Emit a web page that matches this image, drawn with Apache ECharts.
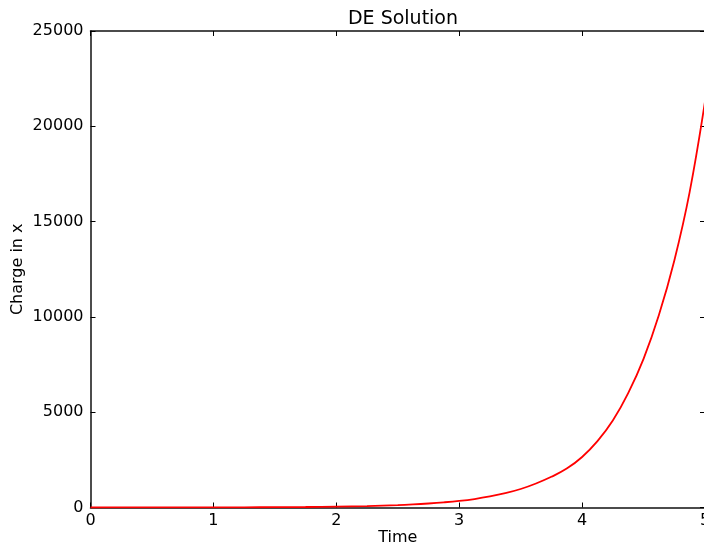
<!DOCTYPE html>
<html>
<head>
<meta charset="utf-8">
<script src="https://cdn.jsdelivr.net/npm/echarts@6/dist/echarts.min.js"></script>
<style>
html,body{margin:0;padding:0;background:#fff;}
#c{width:704px;height:546px;}
</style>
</head>
<body>
<div id="c"></div>
<script>
var titleText = "DE Solution";
var xLabel = "Time";
var yLabel = "Charge in x";
var timeValues = [0, 0.25, 0.5, 0.75, 1, 1.25, 1.5, 1.75, 2, 2.25, 2.5, 2.625, 2.75, 2.875, 3, 3.125, 3.25, 3.375, 3.5, 3.625, 3.75, 3.875, 4, 4.125, 4.25, 4.375, 4.5, 4.625, 4.75, 4.875, 5];
var chargeValues = [1, 1.6, 2.6, 4, 6.5, 10, 16, 27, 46, 75, 125, 162, 210, 270, 345, 445, 580, 750, 970, 1260, 1610, 2040, 2650, 3480, 4560, 6000, 7800, 10100, 12950, 16550, 21300];

var font = "DejaVu Sans";
var pts = timeValues.map(function (t, i) { return [t, chargeValues[i]]; });
var plain = function (v) { return String(v); };

var chart = echarts.init(document.getElementById('c'), null, {renderer: 'canvas'});
var axisLineStyle = {color: '#111', width: 1.5};
chart.setOption({
  animation: false,
  backgroundColor: '#fff',
  title: {
    text: titleText, left: 398, top: 5, textAlign: 'center',
    textStyle: {fontFamily: font, fontSize: 19, fontWeight: 'normal', color: '#000'}
  },
  grid: {left: 90.5, top: 31, width: 614.5, height: 476.5, containLabel: false, outerBoundsMode: 'none'},
  xAxis: [{
    type: 'value', min: 0, max: 5, interval: 1, position: 'bottom',
    name: xLabel, nameLocation: 'middle', nameGap: 22, nameMoveOverlap: false,
    nameTextStyle: {fontFamily: font, fontSize: 16, color: '#000'},
    axisLine: {show: true, onZero: false, lineStyle: axisLineStyle},
    axisTick: {show: true, inside: true, length: 5, lineStyle: {color: '#000'}},
    axisLabel: {fontFamily: font, fontSize: 16, color: '#000', margin: 5, formatter: plain},
    splitLine: {show: false}
  }, {
    type: 'value', min: 0, max: 5, interval: 1, position: 'top',
    axisLine: {show: true, onZero: false, lineStyle: axisLineStyle},
    axisTick: {show: true, inside: true, length: 5, lineStyle: {color: '#000'}},
    axisLabel: {show: false}, splitLine: {show: false}
  }],
  yAxis: [{
    type: 'value', min: 0, max: 25000, interval: 5000, position: 'left',
    name: yLabel, nameLocation: 'middle', nameGap: 65, nameRotate: 90, nameMoveOverlap: false,
    nameTextStyle: {fontFamily: font, fontSize: 16, color: '#000'},
    axisLine: {show: true, onZero: false, lineStyle: axisLineStyle},
    axisTick: {show: true, inside: true, length: 5, lineStyle: {color: '#000'}},
    axisLabel: {fontFamily: font, fontSize: 16, color: '#000', margin: 7, formatter: plain},
    splitLine: {show: false}
  }, {
    type: 'value', min: 0, max: 25000, interval: 5000, position: 'right',
    axisLine: {show: true, onZero: false, lineStyle: axisLineStyle},
    axisTick: {show: true, inside: true, length: 5, lineStyle: {color: '#000'}},
    axisLabel: {show: false}, splitLine: {show: false}
  }],
  series: [{
    type: 'line', xAxisIndex: 0, yAxisIndex: 0,
    data: pts, smooth: 0.4, showSymbol: false, symbol: 'none',
    lineStyle: {color: '#ff0000', width: 1.8}
  }]
});
</script>
</body>
</html>
